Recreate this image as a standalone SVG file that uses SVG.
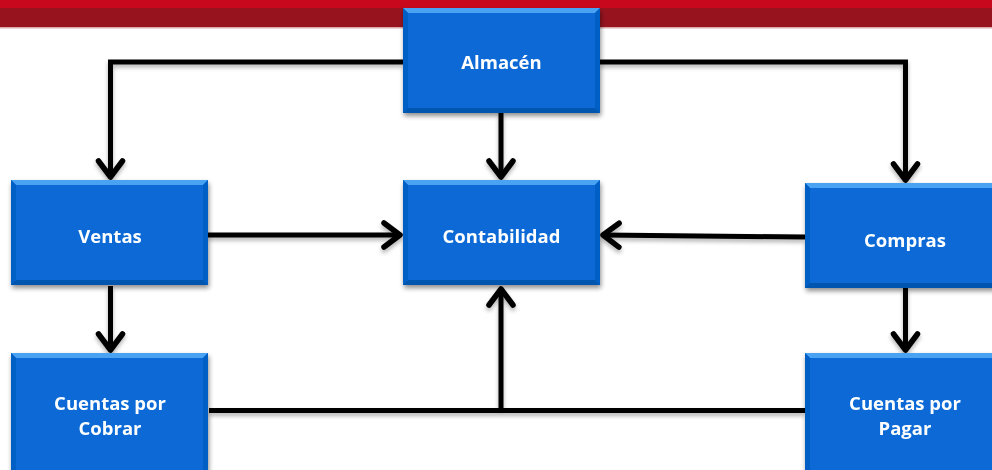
<svg xmlns="http://www.w3.org/2000/svg" width="992" height="470" viewBox="0 0 992 470">
  <style>
    .conn { fill: none; stroke: #000; stroke-width: 5; stroke-linejoin: miter; }
    .arrow { marker-end: url(#openArrow); }
    .face { fill: #0769D6; }
    .bev-top { fill: #4AA2F2; }
    .bev-side { fill: #065EC4; }
    .bev-bot { fill: #0555AE; }
    .label { font-family: "Open Sans", "Liberation Sans", sans-serif; font-weight: bold; font-size: 18.5px; fill: #FFFFFF; text-anchor: middle; }
  </style>
  <defs>
    <marker id="openArrow" markerUnits="userSpaceOnUse" markerWidth="50" markerHeight="50" viewBox="-25 -25 50 50" refX="0" refY="0" orient="auto" overflow="visible">
      <path d="M-16,-12 L0,0 L-16,12" fill="none" stroke="#000" stroke-width="5.5" stroke-linecap="round" stroke-linejoin="round"/>
    </marker>
    <filter id="boxShadow" x="-10%" y="-10%" width="125%" height="130%">
      <feGaussianBlur in="SourceAlpha" stdDeviation="2.5"/>
      <feOffset dx="1" dy="3" result="b"/>
      <feComponentTransfer><feFuncA type="linear" slope="0.45"/></feComponentTransfer>
      <feMerge><feMergeNode/><feMergeNode in="SourceGraphic"/></feMerge>
    </filter>
    <filter id="lineShadow" x="-10%" y="-10%" width="120%" height="130%">
      <feGaussianBlur in="SourceAlpha" stdDeviation="2"/>
      <feOffset dx="0" dy="3" result="b"/>
      <feComponentTransfer><feFuncA type="linear" slope="0.3"/></feComponentTransfer>
      <feMerge><feMergeNode/><feMergeNode in="SourceGraphic"/></feMerge>
    </filter>
    <!-- bevelled blue box, 197 x 105 -->
    <g id="boxShape">
      <rect x="0" y="0" width="197" height="105" class="face"/>
      <polygon points="0,0 197,0 192,5 5,5" class="bev-top"/>
      <polygon points="0,0 5,5 5,100 0,105" class="bev-side"/>
      <polygon points="197,0 192,5 192,100 197,105" class="bev-side"/>
      <polygon points="0,105 5,100 192,100 197,105" class="bev-bot"/>
    </g>
    <!-- taller variant whose lower edge runs off the page -->
    <g id="tallBoxShape">
      <rect x="0" y="0" width="197" height="130" class="face"/>
      <polygon points="0,0 197,0 192,5 5,5" class="bev-top"/>
      <polygon points="0,0 5,5 5,125 0,130" class="bev-side"/>
      <polygon points="197,0 192,5 192,125 197,130" class="bev-side"/>
    </g>
  </defs>

  <!-- header band -->
  <rect x="0" y="0" width="992" height="8" fill="#C8081D"/>
  <rect x="0" y="8" width="992" height="19" fill="#97141F"/>
  <rect x="0" y="27" width="992" height="1.5" fill="#D9A9AC"/>

  <!-- connectors -->
  <g id="connectors" filter="url(#lineShadow)">
    <path class="conn arrow" d="M403,62 H110.5 V177"/>
    <path class="conn arrow" d="M600,62 H905.5 V180"/>
    <path class="conn arrow" d="M501,113 V177"/>
    <path class="conn arrow" d="M208,235 H400"/>
    <path class="conn arrow" d="M805,237 L603,235"/>
    <path class="conn arrow" d="M110.5,286 V350"/>
    <path class="conn arrow" d="M905.5,288 V350"/>
    <path class="conn" d="M209,410.5 H805"/>
    <path class="conn arrow" d="M501,410.5 V289"/>
  </g>

  <g id="almacen" filter="url(#boxShadow)">
    <use href="#boxShape" x="403" y="8"/>
    <text class="label" x="501.5" y="68.5">Almacén</text>
  </g>

  <g id="ventas" filter="url(#boxShadow)">
    <use href="#boxShape" x="11" y="180"/>
    <text class="label" x="110" y="242.5">Ventas</text>
  </g>

  <g id="contabilidad" filter="url(#boxShadow)">
    <use href="#boxShape" x="403" y="180"/>
    <text class="label" x="501.5" y="242.5">Contabilidad</text>
  </g>

  <g id="compras" filter="url(#boxShadow)">
    <use href="#boxShape" x="805" y="183"/>
    <text class="label" x="905" y="246.5">Compras</text>
  </g>

  <g id="cuentas-cobrar" filter="url(#boxShadow)">
    <use href="#tallBoxShape" x="11" y="353"/>
    <text class="label" x="110" y="409.5">Cuentas por</text>
    <text class="label" x="110" y="434.5">Cobrar</text>
  </g>

  <g id="cuentas-pagar" filter="url(#boxShadow)">
    <use href="#tallBoxShape" x="805" y="353"/>
    <text class="label" x="905" y="409.5">Cuentas por</text>
    <text class="label" x="905" y="434.5">Pagar</text>
  </g>
</svg>
